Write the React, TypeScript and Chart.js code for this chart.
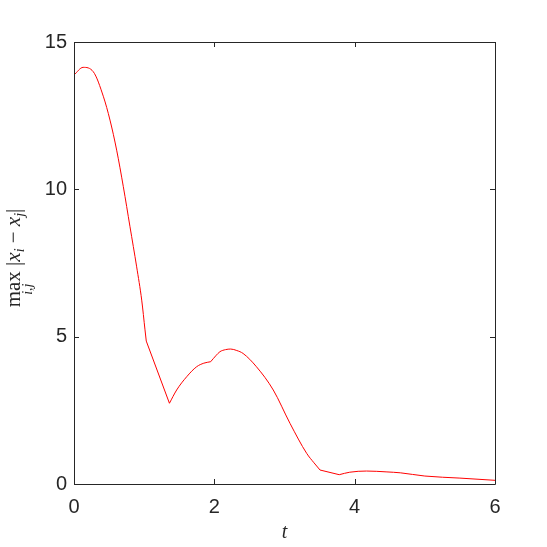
import React, { useEffect, useRef } from "react";
import { Chart, registerables } from "chart.js";

Chart.register(...registerables);

const tValues = [
  0, 0.13, 0.275, 0.42, 0.513, 0.608, 0.703, 0.798, 0.893, 0.965, 1.012, 1.03,
  1.36, 1.463, 1.606, 1.748, 1.85, 1.948, 2.02, 2.08, 2.16, 2.233, 2.32, 2.41,
  2.6, 2.84, 3.078, 3.316, 3.42, 3.506, 3.78, 3.93, 4.17,
  4.46, 4.65, 5.0, 5.5, 6.0,
];
const maxDiff = [
  13.88, 14.14, 13.99, 13.14, 12.35, 11.33, 10.09, 8.73, 7.37, 6.24, 5.23, 4.85,
  2.74, 3.19, 3.64, 3.98, 4.1, 4.15, 4.35, 4.49, 4.56, 4.58, 4.53, 4.43,
  3.98, 3.19, 2.06, 1.04, 0.72, 0.475, 0.316, 0.4, 0.44,
  0.41, 0.38, 0.27, 0.2, 0.125,
];
// times where the curve has a corner (non-smooth points)
const cornerTimes = [1.03, 1.36, 1.948, 3.506, 3.78];
const xTicks = [0, 2, 4, 6];
const yTicks = [0, 5, 10, 15];

const AXIS = "#262626";

const boxPlugin = {
  id: "matlabBox",
  afterDraw(chart: any) {
    const { ctx, chartArea: a, scales } = chart;
    ctx.save();
    ctx.strokeStyle = AXIS;
    ctx.lineWidth = 1;
    ctx.beginPath();
    ctx.rect(Math.round(a.left) + 0.5, Math.round(a.top) + 0.5, Math.round(a.right - a.left), Math.round(a.bottom - a.top));
    ctx.stroke();
    const tl = 5;
    ctx.beginPath();
    xTicks.forEach((v) => {
      const x = Math.round(scales.x.getPixelForValue(v)) + 0.5;
      ctx.moveTo(x, a.bottom);
      ctx.lineTo(x, a.bottom - tl);
      ctx.moveTo(x, a.top);
      ctx.lineTo(x, a.top + tl);
    });
    yTicks.forEach((v) => {
      const y = Math.round(scales.y.getPixelForValue(v)) + 0.5;
      ctx.moveTo(a.left, y);
      ctx.lineTo(a.left + tl, y);
      ctx.moveTo(a.right, y);
      ctx.lineTo(a.right - tl, y);
    });
    ctx.stroke();

    // y-axis label: max_{i,j} |x_i - x_j|
    const cy = 258;
    ctx.translate(20, cy);
    ctx.rotate(-Math.PI / 2);
    ctx.fillStyle = AXIS;
    ctx.textBaseline = "alphabetic";
    const main = "21px 'Liberation Serif', serif";
    const ital = "italic 21px 'Liberation Serif', serif";
    const sub = "italic 14px 'Liberation Serif', serif";
    ctx.font = main;
    const wMax = ctx.measureText("max").width;
    ctx.font = sub;
    const wSubIJ = ctx.measureText("i,j").width;
    const seq: { t: string; f: string; dy: number }[] = [
      { t: " |", f: main, dy: 0 },
      { t: "x", f: ital, dy: 0 },
      { t: "i", f: sub, dy: 4 },
      { t: " \u2212 ", f: main, dy: 0 },
      { t: "x", f: ital, dy: 0 },
      { t: "j", f: sub, dy: 4 },
      { t: "|", f: main, dy: 0 },
    ];
    let total = wMax;
    seq.forEach((s) => {
      ctx.font = s.f;
      total += ctx.measureText(s.t).width;
    });
    let x = -total / 2;
    ctx.font = main;
    ctx.fillText("max", x, 0);
    ctx.font = sub;
    ctx.fillText("i,j", x + (wMax - wSubIJ) / 2, 12);
    x += wMax;
    seq.forEach((s) => {
      ctx.font = s.f;
      ctx.fillText(s.t, x, s.dy);
      x += ctx.measureText(s.t).width;
    });
    ctx.restore();
  },
};

function buildSegments() {
  const segs: { x: number; y: number }[][] = [];
  let cur: { x: number; y: number }[] = [];
  tValues.forEach((t, i) => {
    const p = { x: t, y: maxDiff[i] };
    cur.push(p);
    if (cornerTimes.includes(t)) {
      segs.push(cur);
      cur = [p];
    }
  });
  if (cur.length > 1) segs.push(cur);
  return segs;
}

export default function App() {
  const ref = useRef<HTMLCanvasElement | null>(null);
  useEffect(() => {
    document.body.style.margin = "0";
    const canvas = ref.current!;
    const datasets = buildSegments().map((seg) => ({
      data: seg,
      borderColor: "#ff0000",
      borderWidth: 1,
      pointRadius: 0,
      cubicInterpolationMode: "monotone",
      fill: false,
    }));
    const chart = new Chart(canvas, {
      type: "line",
      data: { datasets },
      options: {
        animation: false,
        responsive: false,
        maintainAspectRatio: false,
        layout: { padding: { left: 0, right: 52, top: 42, bottom: 0 } },
        plugins: { legend: { display: false }, tooltip: { enabled: false } },
        scales: {
          x: {
            type: "linear",
            min: 0,
            max: 6,
            afterBuildTicks: (s: any) => {
              s.ticks = xTicks.map((v) => ({ value: v }));
            },
            afterFit: (s: any) => {
              s.height = 63;
            },
            grid: { display: false, drawTicks: false },
            border: { display: false },
            ticks: {
              color: AXIS,
              padding: 11,
              maxRotation: 0,
              font: { family: "'Liberation Sans', Arial, sans-serif", size: 20 },
            },
            title: {
              display: true,
              text: "t",
              color: AXIS,
              font: { family: "'Liberation Serif', serif", size: 20, style: "italic" },
              padding: { top: 0, bottom: 2 },
            },
          },
          y: {
            type: "linear",
            min: 0,
            max: 15,
            afterBuildTicks: (s: any) => {
              s.ticks = yTicks.map((v) => ({ value: v }));
            },
            afterFit: (s: any) => {
              s.width = 74;
            },
            grid: { display: false, drawTicks: false },
            border: { display: false },
            ticks: {
              color: AXIS,
              padding: 7,
              font: { family: "'Liberation Sans', Arial, sans-serif", size: 20 },
            },
          },
        },
      },
      plugins: [boxPlugin],
    } as any);
    return () => chart.destroy();
  }, []);
  return (
    <div style={{ width: 547, height: 547, background: "#fff" }}>
      <canvas ref={ref} width={547} height={547} style={{ display: "block" }} />
    </div>
  );
}
